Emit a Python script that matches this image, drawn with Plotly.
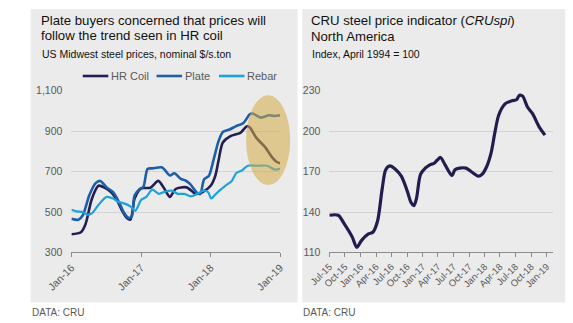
import plotly.graph_objects as go

# ---------------- Left chart: US Midwest steel prices ($/s.ton) ----------------
hr_dates = ["2016-01-01", "2016-02-20", "2016-03-15", "2016-04-18", "2016-05-22", "2016-06-25",
            "2016-07-28", "2016-09-01", "2016-09-25", "2016-10-18", "2016-11-06", "2016-11-28",
            "2017-01-01", "2017-02-18", "2017-04-01", "2017-05-04", "2017-06-01", "2017-07-01",
            "2017-08-28", "2017-10-15", "2017-11-18", "2018-01-01", "2018-01-25", "2018-02-12",
            "2018-03-06", "2018-04-15", "2018-06-06", "2018-07-10", "2018-07-25", "2018-08-28",
            "2018-10-15", "2018-11-18", "2018-12-12", "2019-01-01"]
hr_vals = [390, 400, 440, 567, 630, 620, 598, 551, 503, 471, 463, 567,
           617, 620, 654, 614, 575, 614, 622, 590, 598, 630, 678, 757,
           844, 876, 892, 924, 919, 868, 820, 773, 749, 741]

plate_dates = ["2016-01-01", "2016-02-07", "2016-03-01", "2016-04-04", "2016-05-07", "2016-06-01",
               "2016-07-04", "2016-08-07", "2016-09-10", "2016-10-04", "2016-10-28", "2016-11-13",
               "2016-11-28", "2016-12-25", "2017-01-13", "2017-02-04", "2017-03-01", "2017-04-19",
               "2017-05-04", "2017-06-01", "2017-06-25", "2017-07-28", "2017-08-22", "2017-09-16",
               "2017-10-19", "2017-11-07", "2017-11-28", "2017-12-22", "2018-01-16", "2018-02-12",
               "2018-03-07", "2018-04-10", "2018-05-13", "2018-06-22", "2018-07-25", "2018-08-10",
               "2018-09-22", "2018-11-04", "2018-12-04", "2019-01-01"]
plate_vals = [467, 462, 484, 583, 643, 654, 622, 598, 543, 495, 471, 479,
              583, 614, 625, 713, 716, 721, 710, 681, 692, 664, 656, 638,
              598, 589, 662, 678, 757, 852, 897, 908, 924, 940, 983, 987,
              967, 979, 975, 979]

rebar_dates = ["2016-01-01", "2016-01-28", "2016-03-01", "2016-03-25", "2016-04-19", "2016-05-22",
               "2016-07-04", "2016-08-07", "2016-09-01", "2016-10-04", "2016-11-07", "2016-12-01",
               "2017-01-01", "2017-01-28", "2017-03-01", "2017-04-04", "2017-05-07", "2017-06-10",
               "2017-07-13", "2017-08-16", "2017-09-19", "2017-10-22", "2017-11-25", "2017-12-19",
               "2018-01-04", "2018-01-22", "2018-02-16", "2018-03-19", "2018-04-22", "2018-05-16",
               "2018-06-13", "2018-07-16", "2018-09-04", "2018-10-25", "2018-12-04", "2019-01-01"]
rebar_vals = [511, 503, 500, 487, 495, 535, 575, 567, 551, 543, 527, 506,
              559, 575, 611, 590, 601, 606, 590, 590, 578, 590, 606, 598,
              567, 583, 606, 630, 654, 693, 705, 729, 729, 729, 710, 714]

left_yticks = [300, 500, 700, 900, 1100]
left_xticks = ["2016-01-01", "2017-01-01", "2018-01-01", "2019-01-01"]

series_names = ["HR Coil", "Plate", "Rebar"]
series_colors = ["#241f52", "#1d5ea9", "#1ea2de"]

# ---------------- Right chart: CRUspi North America ----------------
cru_dates = ["2015-07-01", "2015-08-22", "2015-09-28", "2015-11-13", "2015-12-10", "2016-01-07",
             "2016-02-16", "2016-03-13", "2016-04-10", "2016-05-07", "2016-05-28", "2016-06-22",
             "2016-07-22", "2016-08-28", "2016-10-04", "2016-10-22", "2016-11-10", "2016-11-25",
             "2016-12-19", "2017-01-16", "2017-02-12", "2017-03-10", "2017-03-28", "2017-04-16",
             "2017-05-13", "2017-06-22", "2017-07-10", "2017-08-07", "2017-09-13", "2017-10-19",
             "2017-11-25", "2017-12-16", "2018-01-13", "2018-02-09", "2018-02-28", "2018-03-25",
             "2018-05-01", "2018-06-10", "2018-07-07", "2018-07-25", "2018-08-13", "2018-09-10",
             "2018-10-10", "2018-11-16", "2018-12-22"]
cru_vals = [137.6, 137.6, 131, 121.4, 113.8, 119,
            123.8, 125, 133.4, 157, 171.4, 174.3,
            172, 166.6, 154.8, 147.6, 144.8, 150,
            167.9, 172.6, 175, 176.2, 178.6, 180.5,
            175, 167.1, 171.4, 172.6, 172.6, 169.5,
            166.6, 167.9, 173.8, 184.5, 197.6, 212,
            220.2, 222.6, 223.3, 226.7, 226, 217.9,
            213, 203.6, 197.1]

right_yticks = [110, 140, 170, 200, 230]
right_xticks = ["2015-07-01", "2015-10-01", "2016-01-01", "2016-04-01", "2016-07-01", "2016-10-01",
                "2017-01-01", "2017-04-01", "2017-07-01", "2017-10-01", "2018-01-01", "2018-04-01",
                "2018-07-01", "2018-10-01", "2019-01-01"]

FONT = "Liberation Sans, Arial, sans-serif"
GREY_TXT = "#595959"
W, H = 573, 323

fig = go.Figure()
for nm, xs, ys, col, lw in [("HR Coil", hr_dates, hr_vals, series_colors[0], 2.6),
                            ("Plate", plate_dates, plate_vals, series_colors[1], 2.6),
                            ("Rebar", rebar_dates, rebar_vals, series_colors[2], 2.2)]:
    fig.add_trace(go.Scatter(x=xs, y=ys, name=nm, mode="lines", showlegend=False,
                             line=dict(color=col, width=lw, shape="spline", smoothing=0.8),
                             xaxis="x", yaxis="y"))
fig.add_trace(go.Scatter(x=cru_dates, y=cru_vals, name="CRUspi", mode="lines", showlegend=False,
                         line=dict(color="#221d4f", width=3.2, shape="spline", smoothing=0.8),
                         xaxis="x2", yaxis="y2"))

def px_x(p):
    return p / W

def px_y(p):
    return (H - p) / H

dom_y = [px_y(256), px_y(88)]

common_x = dict(type="date", showgrid=False, showline=True, linecolor="#8c8c8c", linewidth=1,
                ticks="outside", ticklen=4, tickcolor="#8c8c8c", tickangle=-45,
                tickformat="%b-%y", zeroline=False, fixedrange=True)
common_y = dict(showgrid=True, gridcolor="#d3d3d3", gridwidth=1, showline=False, ticks="",
                zeroline=False, ticklabelstandoff=8, fixedrange=True,
                tickfont=dict(family=FONT, size=10.5, color=GREY_TXT))

fig.update_layout(
    width=W, height=H, autosize=False,
    margin=dict(l=0, r=0, t=0, b=0),
    paper_bgcolor="white", plot_bgcolor="rgba(0,0,0,0)",
    font=dict(family=FONT, color=GREY_TXT),
    xaxis=dict(common_x, domain=[px_x(48), px_x(268.7)], range=["2016-01-01", "2019-01-01"],
               tickvals=left_xticks, anchor="y",
               tickfont=dict(family=FONT, size=10.5, color=GREY_TXT)),
    yaxis=dict(common_y, domain=dom_y, range=[300, 1100], tickvals=left_yticks,
               tickformat=",d", anchor="x"),
    xaxis2=dict(common_x, domain=[px_x(320.7), px_x(556.7)], range=["2015-07-01", "2019-02-05"],
                tickvals=right_xticks, anchor="y2",
                tickfont=dict(family=FONT, size=9.5, color=GREY_TXT)),
    yaxis2=dict(common_y, domain=dom_y, range=[110, 230], tickvals=right_yticks, anchor="x2"),
    showlegend=False,
)

# panel backgrounds
fig.add_shape(type="rect", xref="paper", yref="paper", x0=px_x(5), x1=px_x(287), y0=px_y(308), y1=px_y(3),
              fillcolor="#ebebeb", line=dict(width=0), layer="below")
fig.add_shape(type="rect", xref="paper", yref="paper", x0=px_x(292), x1=px_x(570), y0=px_y(308), y1=px_y(3),
              fillcolor="#ebebeb", line=dict(width=0), layer="below")
# highlight ellipse
fig.add_shape(type="circle", xref="paper", yref="paper", x0=px_x(232.7), x1=px_x(279.3),
              y0=px_y(186), y1=px_y(92.7), fillcolor="rgba(212,172,70,0.55)", line=dict(width=0),
              layer="above")

def ann(text, x, y, size, color="#111111"):
    fig.add_annotation(text=text, xref="paper", yref="paper", x=px_x(x), y=px_y(y),
                       xanchor="left", yanchor="middle", showarrow=False,
                       font=dict(family=FONT, size=size, color=color))

# legend (line samples + labels)
legend_line_x = [60, 138, 204]
for nm, col, lx in zip(series_names, series_colors, legend_line_x):
    fig.add_shape(type="line", xref="paper", yref="paper", x0=px_x(lx), x1=px_x(lx + 27),
                  y0=px_y(72.7), y1=px_y(72.7), line=dict(color=col, width=2.6))
    ann(nm, lx + 27.5, 72.7, 11, GREY_TXT)

ann("Plate buyers concerned that prices will", 13.5, 15.5, 13.2)
ann("follow the trend seen in HR coil", 13.5, 30.5, 13.2)
ann("US Midwest steel prices, nominal $/s.ton", 14.5, 50, 10.5)
ann("CRU steel price indicator (<i>CRUspi</i>)", 299, 15.5, 13.2)
ann("North America", 299, 31.5, 13.2)
ann("Index, April 1994 = 100", 300, 50, 10.5)
ann("DATA: CRU", 4, 318, 10, GREY_TXT)
ann("DATA: CRU", 291, 318, 10, GREY_TXT)

fig.write_html("out.html")
